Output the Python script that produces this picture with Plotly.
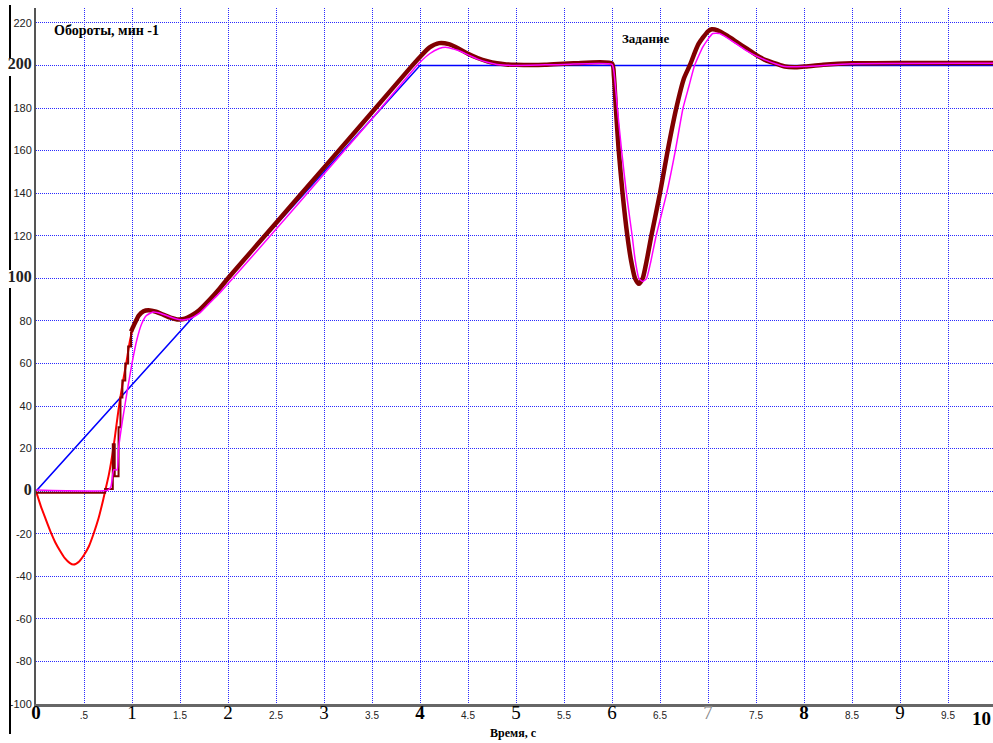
import plotly.graph_objects as go

# ---------------- data ----------------
setpoint_t = [0, 4.0, 10]
setpoint_v = [0, 200, 200]

model_t = [0, 0.05, 0.1, 0.16, 0.2, 0.25, 0.3, 0.35, 0.39, 0.45, 0.5, 0.55, 0.6, 0.65, 0.7, 0.72,
           0.76, 0.805, 0.835, 0.865, 0.9, 0.94, 0.98, 1.02, 1.07, 1.12, 1.17, 1.25, 1.33, 1.4, 1.47,
           1.55, 1.62, 1.7, 1.8, 1.9, 2.0, 2.5, 3.0, 3.5, 3.9, 4.0, 4.1, 4.2, 4.3, 4.4, 4.5, 4.6,
           4.7, 4.8, 4.9, 5.0, 5.3, 5.6, 6.0, 6.02, 6.04, 6.07, 6.11, 6.16, 6.2, 6.24, 6.28, 6.32,
           6.36, 6.41, 6.5, 6.58, 6.67, 6.75, 6.81, 6.9, 7.0, 7.04, 7.1, 7.2, 7.3, 7.4, 7.5, 7.6,
           7.7, 7.8, 7.9, 8.0, 8.2, 8.5, 9.0, 10]
model_v = [0, -7, -13, -20, -24, -28, -31.5, -33.7, -34.5, -33, -30, -26, -20, -13, -4, 0,
           8, 20, 30, 40, 50, 60, 71, 78, 82.5, 84.5, 85, 84.3, 82.8, 81.5, 80.7,
           81, 82.5, 85, 89.5, 94.5, 100, 126, 152, 178, 199, 204, 208.5, 210.5, 210, 208, 205.5, 203.5,
           202, 201, 200.5, 200.3, 200.3, 201, 201, 195, 180, 160, 140, 120, 108, 100, 97.4, 100,
           108, 120, 140, 160, 180, 194, 200, 210, 216, 217, 216.5, 214, 211, 208, 205, 202.5,
           201, 199.5, 199.2, 199.5, 200.3, 201, 201.2, 201.2]

measured_step_t = [0, 0.72, 0.80, 0.82, 0.86, 0.88, 0.90, 0.93, 0.96, 0.99]
measured_step_v = [-0.8, 1, 22, 7, 30, 44, 52, 60, 68, 75]

filtered_t = [0, 0.75, 0.78, 0.81, 0.845, 0.86, 0.9, 0.95, 1.0, 1.05, 1.1, 1.15, 1.22, 1.3, 1.4,
              1.5, 1.6, 1.7, 1.8, 1.9, 2.0, 2.5, 3.0, 3.5, 3.95, 4.0, 4.1, 4.2, 4.28, 4.4, 4.5,
              4.6, 4.7, 4.8, 5.0, 5.5, 6.0, 6.02, 6.06, 6.1, 6.15, 6.21, 6.24, 6.28, 6.32, 6.36,
              6.4, 6.46, 6.57, 6.66, 6.74, 6.8, 6.86, 6.95, 7.05, 7.12, 7.2, 7.3, 7.4, 7.5, 7.6,
              7.7, 7.8, 8.0, 8.5, 10]
filtered_v = [0.5, 0.5, 2, 10, 10, 20, 33, 47, 60, 71, 78.5, 82.5, 84.2, 83.5, 81.8,
              80.5, 81, 83.5, 88, 92.5, 97.5, 123, 149, 175, 199, 201.5, 205.5, 208, 208.5, 207, 205,
              203, 201.5, 200.5, 200, 200.5, 200.5, 197, 178, 160, 140, 120, 109, 100, 98.5, 100,
              107, 120, 140, 160, 180, 190, 200, 209, 215, 215, 213, 210, 207, 204.5, 202.5,
              200.8, 199.5, 199.5, 200.8, 201]

x_tickvals = [0, 0.5, 1, 1.5, 2, 2.5, 3, 3.5, 4, 4.5, 5, 5.5, 6, 6.5, 7, 7.5, 8, 8.5, 9, 9.5]
x_ticklabels = ["0", ".5", "1", "1.5", "2", "2.5", "3", "3.5", "4", "4.5", "5", "5.5", "6", "6.5",
                "7", "7.5", "8", "8.5", "9", "9.5"]
x_last_label = "10"
y_tickvals = [-100, -80, -60, -40, -20, 0, 20, 40, 60, 80, 100, 120, 140, 160, 180, 200, 220]
y_ticklabels = ["-100", "-80", "-60", "-40", "-20", "0", "20", "40", "60", "80", "100", "120",
                "140", "160", "180", "200", "220"]

y_title = "Обороты, мин -1"
x_title = "Время, с"
setpoint_label = "Задание"

# ---------------- styling ----------------
SERIF = "Liberation Serif"
SANS = "Liberation Sans"
BOLD_X = {"0", "4", "8", "10"}
GRAY_X = {"7"}
BIG_Y = {"0", "100", "200"}


def xlab(s):
    if "." in s:
        return s
    w = "bold" if s in BOLD_X else "normal"
    c = "#888888" if s in GRAY_X else "#000000"
    return (f'<span style="font-family:{SERIF};font-size:19px;font-weight:{w};fill:{c}">'
            f'{s}</span>')


def ylab(s):
    if s in BIG_Y:
        return f'<span style="font-family:{SERIF};font-size:16px;font-weight:bold">{s}</span>'
    return s


L, R, T, B = 36, 0, 8, 39
W, H = 993, 743
PW, PH = W - L - R, H - T - B
X_MAX = PW / 96.0


def px(xp):
    return (xp - L) / PW


def py(yp):
    return (H - B - yp) / PH


fig = go.Figure()
fig.add_trace(go.Scatter(x=setpoint_t, y=setpoint_v, mode="lines",
                         line=dict(color="#0000ff", width=1.5), showlegend=False))
fig.add_trace(go.Scatter(x=model_t, y=model_v, mode="lines",
                         line=dict(color="#ff0000", width=2, shape="spline", smoothing=0.6),
                         showlegend=False))
fig.add_trace(go.Scatter(x=measured_step_t, y=measured_step_v, mode="lines",
                         line=dict(color="#800000", width=2, shape="hv"), showlegend=False))
main_t = [measured_step_t[-1]] + [t for t in model_t if t >= 1.02]
main_v = [measured_step_v[-1]] + [v for t, v in zip(model_t, model_v) if t >= 1.02]
fig.add_trace(go.Scatter(x=main_t, y=main_v, mode="lines",
                         line=dict(color="#800000", width=4.5, shape="spline", smoothing=0.6),
                         showlegend=False))
fig.add_trace(go.Scatter(x=filtered_t, y=filtered_v, mode="lines",
                         line=dict(color="#ff00ff", width=1.5, shape="spline", smoothing=0.5),
                         showlegend=False))

grid = dict(showgrid=True, gridcolor="#2a2aff", griddash="1px,1px", gridwidth=1, zeroline=False)

fig.update_layout(
    width=W, height=H,
    margin=dict(l=L, r=R, t=T, b=B, pad=0),
    paper_bgcolor="white", plot_bgcolor="white",
    xaxis=dict(range=[0, X_MAX], tickvals=x_tickvals, ticktext=[xlab(s) for s in x_ticklabels],
               tickfont=dict(family=SANS, size=10, color="#222222"), ticks="",
               showline=True, linecolor="#666666", linewidth=3, **grid),
    yaxis=dict(range=[-100, 227], tickvals=y_tickvals, ticktext=[ylab(s) for s in y_ticklabels],
               tickfont=dict(family=SANS, size=11, color="#222222"), ticks="",
               showline=True, linecolor="#555555", linewidth=2, **grid),
    annotations=[
        dict(text=f"<b>{y_title}</b>", xref="paper", yref="paper", x=px(52), y=py(30),
             xanchor="left", yanchor="middle", showarrow=False,
             font=dict(family=SERIF, size=14, color="black")),
        dict(text=f"<b>{setpoint_label}</b>", xref="paper", yref="paper", x=px(620), y=py(38),
             xanchor="left", yanchor="middle", showarrow=False,
             font=dict(family=SERIF, size=13, color="black")),
        dict(text=f"<b>{x_title}</b>", xref="paper", yref="paper", x=px(513), y=py(733),
             xanchor="center", yanchor="middle", showarrow=False,
             font=dict(family=SERIF, size=12, color="black")),
        dict(text=f"<b>{x_last_label}</b>", xref="paper", yref="paper", x=1.0, y=py(718),
             xanchor="right", yanchor="middle", showarrow=False,
             font=dict(family=SERIF, size=19, color="black")),
    ],
    shapes=[
        dict(type="line", xref="paper", yref="paper", x0=px(10), x1=px(10), y0=py(5), y1=py(58),
             line=dict(color="black", width=2)),
        dict(type="line", xref="paper", yref="paper", x0=px(10), x1=px(10), y0=py(76), y1=py(270),
             line=dict(color="black", width=2)),
        dict(type="line", xref="paper", yref="paper", x0=px(10), x1=px(10), y0=py(288), y1=py(734),
             line=dict(color="black", width=2)),
    ],
)

fig.write_html("out.html", config={"displayModeBar": False},
               post_script="document.body.style.margin='0';")
